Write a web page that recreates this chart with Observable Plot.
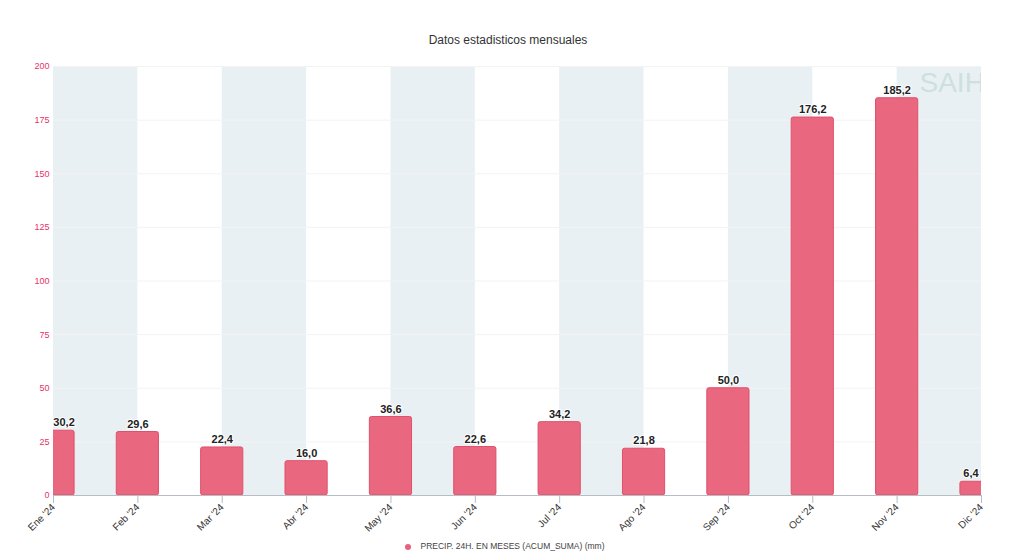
<!DOCTYPE html>
<html>
<head>
<meta charset="utf-8">
<script src="https://cdn.jsdelivr.net/npm/d3@7"></script>
<script src="https://cdn.jsdelivr.net/npm/@observablehq/plot@0.6"></script>
<style>
  html, body { margin: 0; padding: 0; background: #fff; }
  body { width: 1010px; height: 556px; position: relative; overflow: hidden; font-family: "Liberation Sans", "DejaVu Sans", sans-serif; }
  #title { position: absolute; top: 33px; left: 0; width: 1016px; text-align: center; font-size: 12px; color: #333; }
  #chart { position: absolute; top: 55px; left: 0; }
  #legend { position: absolute; top: 541px; left: 0; width: 1010px; text-align: center; font-size: 8.5px; color: #444; }
  #legend .dot { display: inline-block; width: 6px; height: 6px; border-radius: 50%; background: #e8607a; margin-right: 9px; vertical-align: middle; }
</style>
</head>
<body>
<div id="title">Datos estadisticos mensuales</div>
<div id="chart"></div>
<div id="legend"><span class="dot"></span><span id="legendText"></span></div>
<script>
const months = ["Ene '24","Feb '24","Mar '24","Abr '24","May '24","Jun '24","Jul '24","Ago '24","Sep '24","Oct '24","Nov '24","Dic '24"];
const precip = [30.2, 29.6, 22.4, 16.0, 36.6, 22.6, 34.2, 21.8, 50.0, 176.2, 185.2, 6.4];
const yTicks = [0, 25, 50, 75, 100, 125, 150, 175, 200];
const seriesName = "PRECIP. 24H. EN MESES (ACUM_SUMA) (mm)";
const watermark = "SAIH";

document.getElementById("legendText").textContent = seriesName;

const n = months.length;
const data = precip.map((v, i) => ({i, v, label: months[i]}));
const bands = d3.range(0, n - 1, 2).map(i => ({x1: i, x2: i + 1}));
const fmt = v => v.toFixed(1).replace(".", ",");
const labelX = d => d.i === 0 ? d.i + 0.125 : d.i === n - 1 ? d.i - 0.125 : d.i;

const plot = Plot.plot({
  width: 1010,
  height: 480,
  marginTop: 11,
  marginBottom: 40,
  marginLeft: 53,
  marginRight: 29,
  style: {fontFamily: "Liberation Sans, DejaVu Sans, sans-serif", background: "transparent"},
  x: {type: "linear", domain: [0, n - 1], axis: null},
  y: {domain: [0, 200], axis: null},
  marks: [
    Plot.rect(bands, {x1: "x1", x2: "x2", y1: 0, y2: 200, fill: "#e9f0f3"}),
    Plot.ruleY(yTicks.filter(t => t > 0), {stroke: "#f3f3f3", strokeWidth: 1}),
    Plot.text([watermark], {frameAnchor: "top-right", textAnchor: "start", dx: -62, dy: 6, fontSize: 28, fill: "#cddfde", clip: "frame"}),
    Plot.rectY(data, {x1: d => d.i - 0.25, x2: d => d.i + 0.25, y1: 0, y2: "v", fill: "#ea6780", stroke: "#e0506b", strokeWidth: 1, rx: 2, clip: "frame"}),
    Plot.text(data, {x: labelX, y: "v", text: d => fmt(d.v), dy: -8, fontSize: 11, fontWeight: 600, fill: "#222", stroke: "white", strokeWidth: 2, paintOrder: "stroke"}),
    Plot.ruleY([0], {stroke: "#b8bcc4", strokeWidth: 1}),
    Plot.axisX(d3.range(n), {tickFormat: i => months[i], tickRotate: -45, tickSize: 8, stroke: "#b8bcc4", fontSize: 10, fill: "#333", textAnchor: "end", tickPadding: 2, label: null}),
    Plot.axisY(yTicks, {tickSize: 0, tickPadding: 4, fontSize: 9, fill: "#e8336a", label: null})
  ]
});
document.getElementById("chart").appendChild(plot);
</script>
</body>
</html>
